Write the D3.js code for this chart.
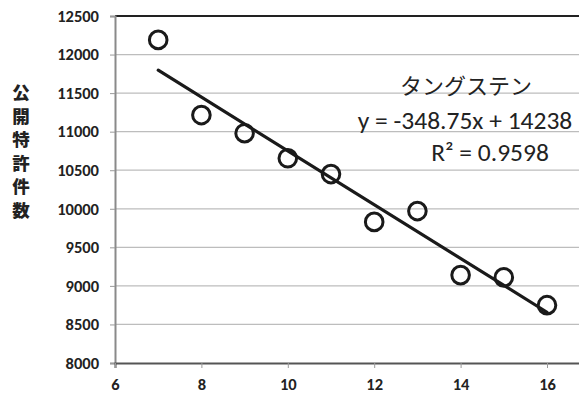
<!DOCTYPE html>
<html>
<head>
<meta charset="utf-8">
<script src="https://cdn.jsdelivr.net/npm/d3@7"></script>
<style>
  body { margin: 0; background: #fff; }
  svg { display: block; }
</style>
</head>
<body>
<svg width="579" height="393"></svg>
<script>
// data
var years = [7, 8, 9, 10, 11, 12, 13, 14, 15, 16];
var counts = [12190, 11215, 10980, 10655, 10450, 9830, 9970, 9140, 9110, 8750];
var yTicks = [8000, 8500, 9000, 9500, 10000, 10500, 11000, 11500, 12000, 12500];
var xTicks = [6, 8, 10, 12, 14, 16];
var yTitle = ["公", "開", "特", "許", "件", "数"];
var slope = -348.75, intercept = 14238;
var notes = ["タングステン", "y = -348.75x + 14238", "R² = 0.9598"];

var svg = d3.select("svg");
var plotL = 115, plotT = 16, plotB = 363;

var x = d3.scaleLinear().domain([6, 18]).range([plotL, plotL + 12 * 43.2]);
var y = d3.scaleLinear().domain([8000, 12500]).range([plotB, plotT]);

var tickFont = "Carlito, 'Liberation Sans', Arial, sans-serif";

// grid
svg.append("g").selectAll("line")
  .data(yTicks.slice(1, -1))
  .enter().append("line")
  .attr("x1", plotL).attr("x2", 579)
  .attr("y1", d => y(d)).attr("y2", d => y(d))
  .attr("stroke", "#bdbdbd").attr("stroke-width", 1.2);

// top border
svg.append("line")
  .attr("x1", plotL).attr("x2", 579)
  .attr("y1", y(12500)).attr("y2", y(12500))
  .attr("stroke", "#222").attr("stroke-width", 2);

// y axis
var yAxis = svg.append("g")
  .attr("transform", "translate(" + plotL + ",0)")
  .call(d3.axisLeft(y).tickValues(yTicks).tickSize(5).tickPadding(11).tickFormat(d3.format("d")));
yAxis.select(".domain").attr("stroke", "#8a8a8a").attr("stroke-width", 2);
yAxis.selectAll(".tick line").attr("stroke", "#9a9a9a");
yAxis.selectAll("text")
  .attr("font-family", tickFont)
  .attr("font-weight", "bold").attr("font-size", 16.5).attr("fill", "#222");

// x axis
var xAxis = svg.append("g")
  .attr("transform", "translate(0," + plotB + ")")
  .call(d3.axisBottom(x).tickValues(xTicks).tickSize(5).tickPadding(10));
xAxis.select(".domain").attr("stroke", "#555").attr("stroke-width", 2);
xAxis.selectAll(".tick line").attr("stroke", "#9a9a9a");
xAxis.selectAll("text")
  .attr("font-family", tickFont)
  .attr("font-weight", "bold").attr("font-size", 16.5).attr("fill", "#222");

// y title, stacked vertically
svg.append("g").selectAll("text")
  .data(yTitle)
  .enter().append("text")
  .attr("x", 21)
  .attr("y", (d, i) => 99 + i * 23.5)
  .attr("text-anchor", "middle")
  .attr("font-family", "'Noto Sans CJK JP', sans-serif")
  .attr("font-weight", 900).attr("font-size", 17.5).attr("fill", "#222")
  .text(d => d);

// trend line
svg.append("line")
  .attr("x1", x(7)).attr("y1", y(slope * 7 + intercept))
  .attr("x2", x(16)).attr("y2", y(slope * 16 + intercept))
  .attr("stroke", "#1a1a1a").attr("stroke-width", 3.2).attr("stroke-linecap", "round");

// markers
svg.append("g").selectAll("circle")
  .data(years)
  .enter().append("circle")
  .attr("cx", d => x(d))
  .attr("cy", (d, i) => y(counts[i]))
  .attr("r", 8.8)
  .attr("fill", "none")
  .attr("stroke", "#1a1a1a").attr("stroke-width", 3);

// trendline label
var noteFont = "Carlito, 'Liberation Sans', 'Noto Sans CJK JP', sans-serif";
svg.append("text").attr("x", 466).attr("y", 94)
  .attr("text-anchor", "middle").attr("font-family", "'Noto Sans CJK JP', sans-serif")
  .attr("font-size", 22).attr("fill", "#222").text(notes[0]);
svg.append("text").attr("x", 465).attr("y", 129)
  .attr("text-anchor", "middle").attr("font-family", noteFont)
  .attr("font-size", 25.5).attr("fill", "#222").text(notes[1]);
svg.append("text").attr("x", 490).attr("y", 161)
  .attr("text-anchor", "middle").attr("font-family", noteFont)
  .attr("font-size", 25.5).attr("fill", "#222").text(notes[2]);
</script>
</body>
</html>
